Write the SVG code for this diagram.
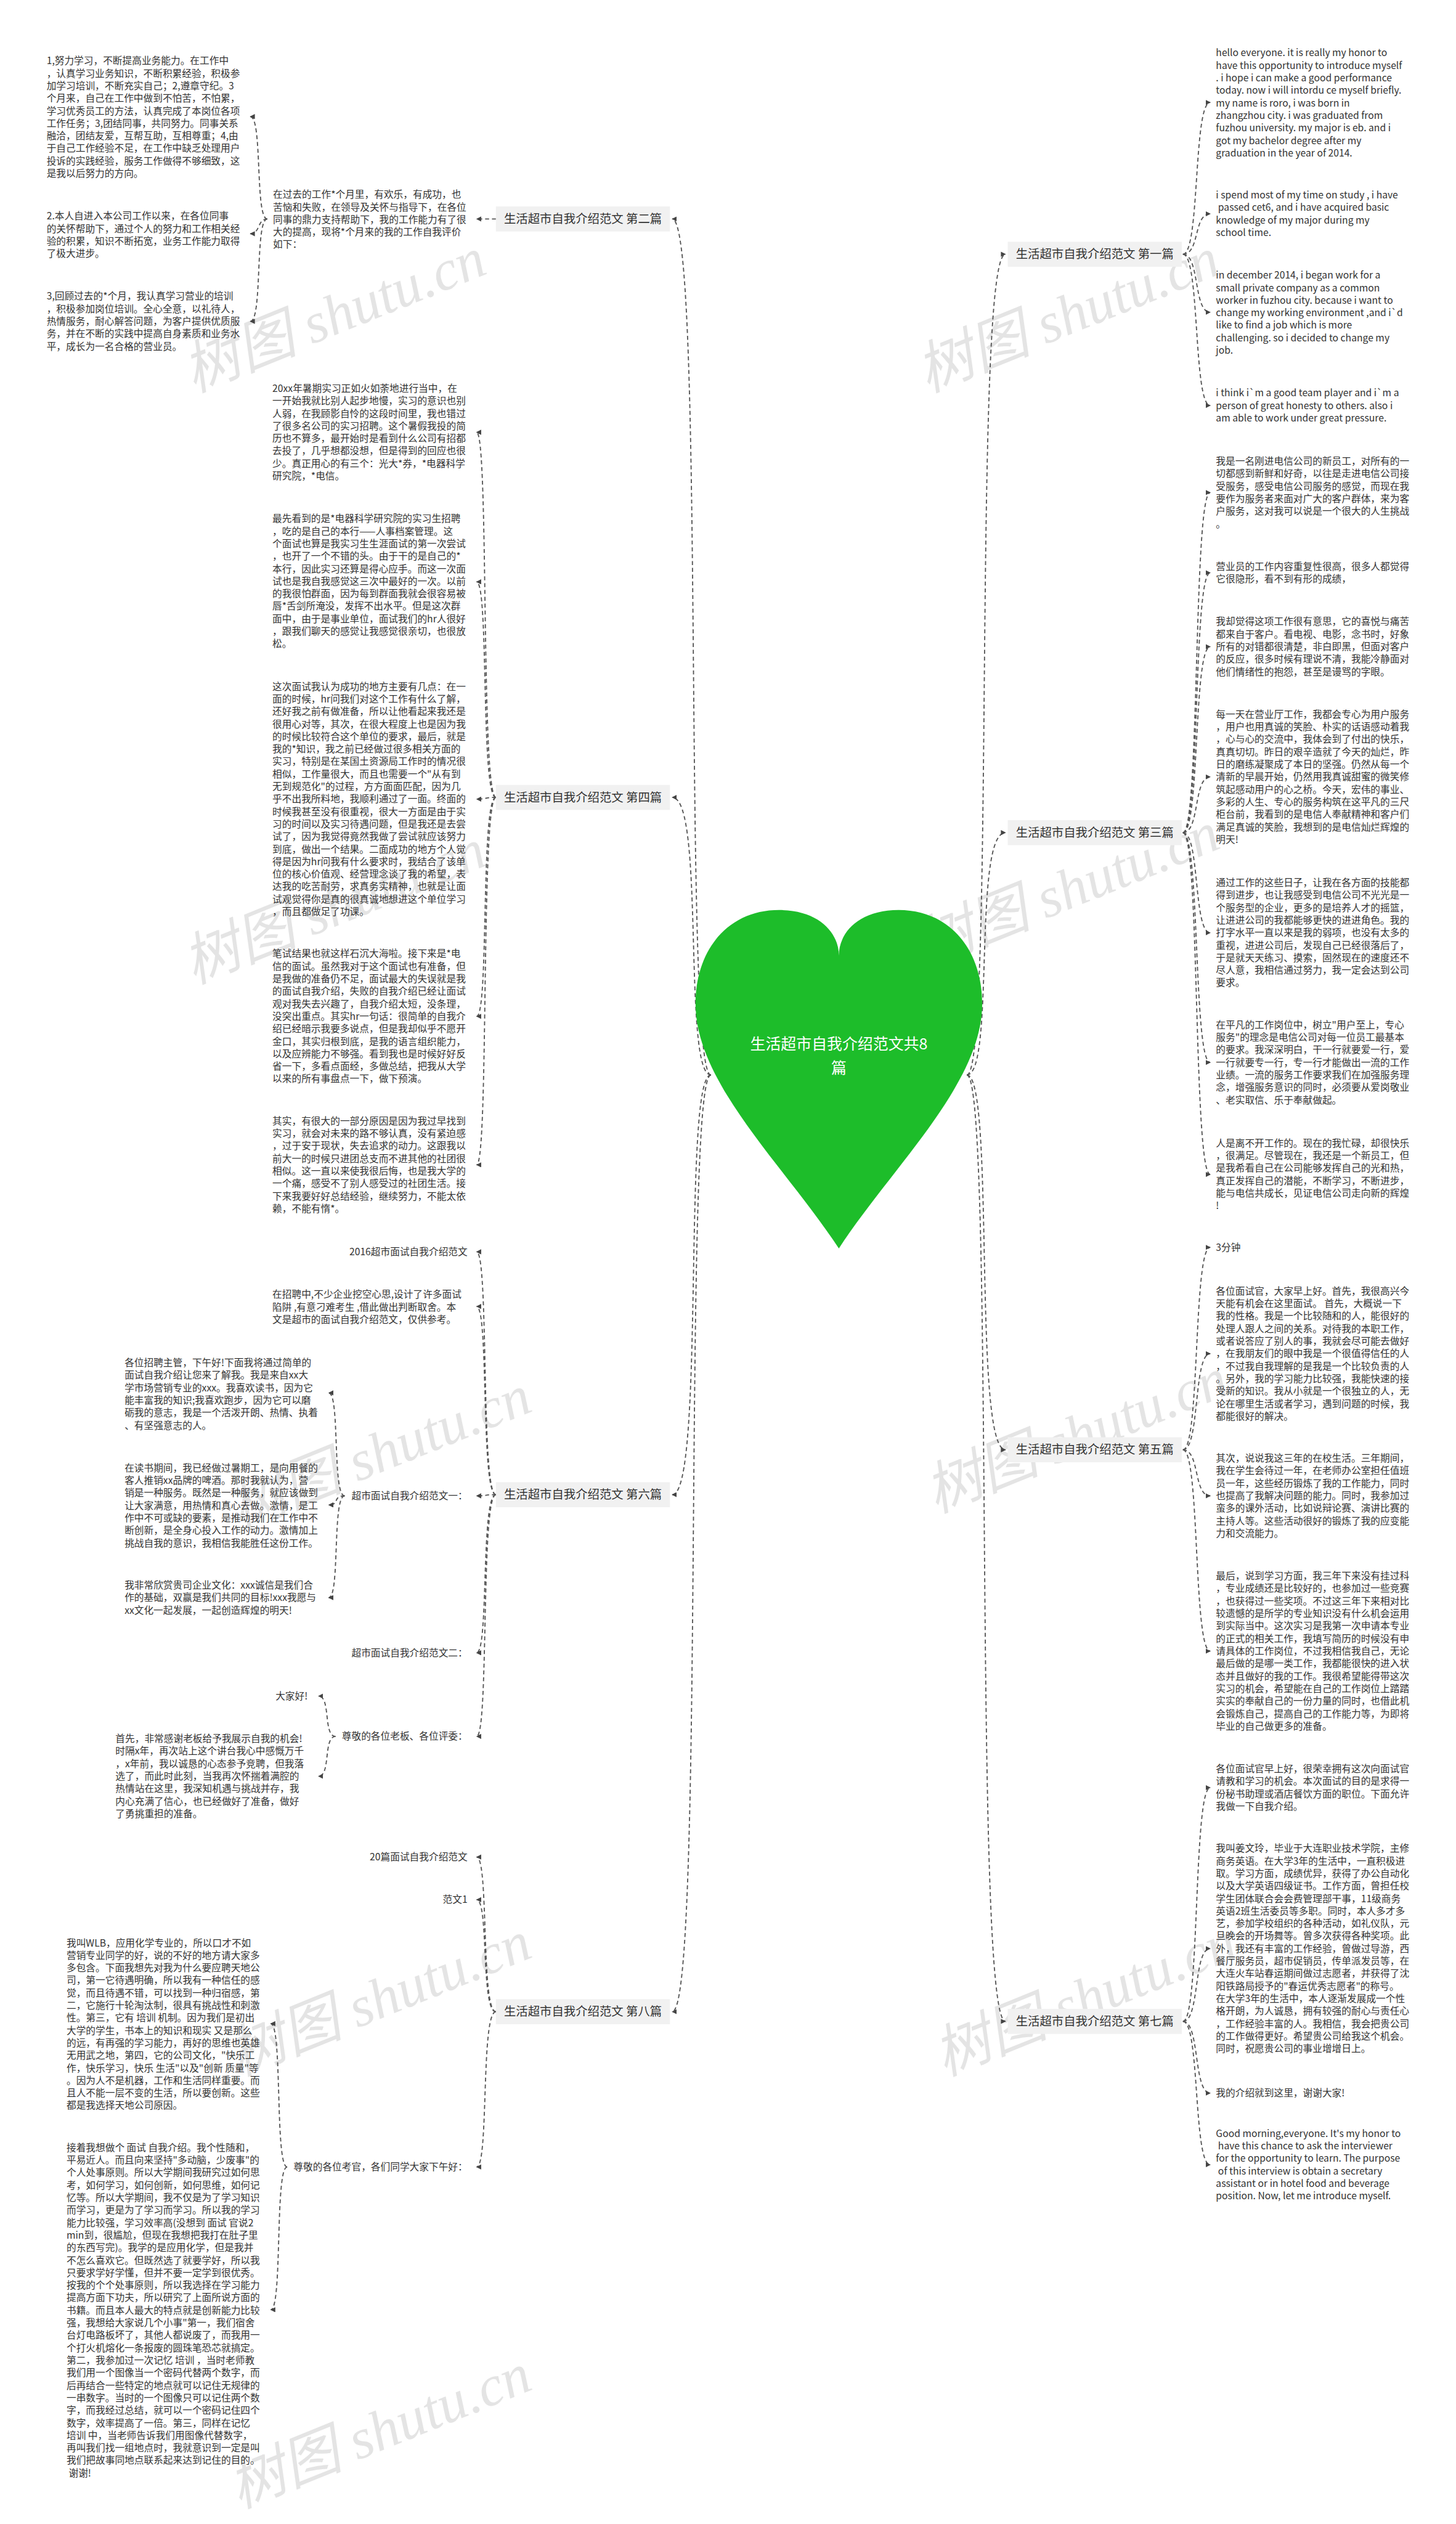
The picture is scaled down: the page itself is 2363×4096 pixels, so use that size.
<svg xmlns="http://www.w3.org/2000/svg" width="2363" height="4096" viewBox="0 0 2363 4096">
<defs>
<style>
.t{font-family:"Noto Sans CJK SC","Liberation Sans",sans-serif;font-size:17px;fill:#333}
.te{font-family:"Noto Sans CJK SC","Liberation Sans",sans-serif;font-size:17px;fill:#333;text-anchor:end}
.n{font-family:"Noto Sans CJK SC","Liberation Sans",sans-serif;font-size:21px;fill:#333;text-anchor:middle}
.nb{fill:#f1f1f1;stroke:none}
.c{fill:none;stroke:#555;stroke-width:2;stroke-dasharray:7 5;marker-end:url(#a)}
.w{font-family:"Liberation Serif","Noto Sans CJK SC",serif;font-style:italic;font-size:100px;fill:#e4e4e4}
</style>
<marker id="a" viewBox="0 0 10 10" refX="9" refY="5" markerWidth="4.5" markerHeight="4.5" orient="auto" markerUnits="strokeWidth"><path d="M0,0 L10,5 L0,10 z" fill="#444"/></marker>
</defs>
<rect width="2363" height="4096" fill="#fff"/>
<g transform="scale(0.923)">
<g id="watermark">
<text class="w" transform="translate(340,690) rotate(-22)">树图 shutu.cn</text>
<text class="w" transform="translate(1630,690) rotate(-22)">树图 shutu.cn</text>
<text class="w" transform="translate(340,1730) rotate(-22)">树图 shutu.cn</text>
<text class="w" transform="translate(1630,1700) rotate(-22)">树图 shutu.cn</text>
<text class="w" transform="translate(420,2690) rotate(-22)">树图 shutu.cn</text>
<text class="w" transform="translate(1645,2660) rotate(-22)">树图 shutu.cn</text>
<text class="w" transform="translate(420,3650) rotate(-22)">树图 shutu.cn</text>
<text class="w" transform="translate(1660,3650) rotate(-22)">树图 shutu.cn</text>
<text class="w" transform="translate(420,4410) rotate(-22)">树图 shutu.cn</text>
</g>
<g id="connectors">
<path class="c" d="M1250,1890 C1200,1890 1240,385 1182,385"/>
<path class="c" d="M1250,1890 C1200,1890 1240,1402 1182,1402"/>
<path class="c" d="M1250,1890 C1200,1890 1240,2628 1182,2628"/>
<path class="c" d="M1250,1890 C1200,1890 1240,3537 1182,3537"/>
<path class="c" d="M1700,1890 C1750,1890 1710,447 1768,447"/>
<path class="c" d="M1700,1890 C1750,1890 1710,1464 1768,1464"/>
<path class="c" d="M1700,1890 C1750,1890 1710,2549 1768,2549"/>
<path class="c" d="M1700,1890 C1750,1890 1710,3554 1768,3554"/>
<path class="c" d="M872,385 L838,385"/>
<path class="c" d="M470,385 C448,385 462,205 440,205"/>
<path class="c" d="M470,385 C452,385 458,411 440,411"/>
<path class="c" d="M470,385 C448,385 462,565 440,565"/>
<path class="c" d="M872,1402 C845,1402 860,760 838,760"/>
<path class="c" d="M872,1402 C845,1402 860,1023 838,1023"/>
<path class="c" d="M872,1402 C850,1402 858,1405 838,1405"/>
<path class="c" d="M872,1402 C845,1402 860,1787 838,1787"/>
<path class="c" d="M872,1402 C845,1402 860,2048 838,2048"/>
<path class="c" d="M872,2628 C845,2628 860,2201 838,2201"/>
<path class="c" d="M872,2628 C845,2628 860,2297 838,2297"/>
<path class="c" d="M872,2628 C850,2628 858,2630 838,2630"/>
<path class="c" d="M872,2628 C845,2628 860,2906 838,2906"/>
<path class="c" d="M872,2628 C845,2628 860,3053 838,3053"/>
<path class="c" d="M606,2630 C584,2630 598,2449 578,2449"/>
<path class="c" d="M606,2630 C584,2630 598,2646 578,2646"/>
<path class="c" d="M606,2630 C584,2630 598,2809 578,2809"/>
<path class="c" d="M590,3053 C568,3053 582,2982 560,2982"/>
<path class="c" d="M590,3053 C568,3053 582,3123 560,3123"/>
<path class="c" d="M872,3537 C845,3537 860,3265 838,3265"/>
<path class="c" d="M872,3537 C845,3537 860,3340 838,3340"/>
<path class="c" d="M872,3537 C845,3537 860,3810 838,3810"/>
<path class="c" d="M505,3810 C483,3810 497,3558 476,3558"/>
<path class="c" d="M505,3810 C483,3810 497,4061 476,4061"/>
<path class="c" d="M2080,447 C2110,447 2098,180 2128,180"/>
<path class="c" d="M2080,447 C2110,447 2098,376 2128,376"/>
<path class="c" d="M2080,447 C2110,447 2098,549 2128,549"/>
<path class="c" d="M2080,447 C2110,447 2098,713 2128,713"/>
<path class="c" d="M2080,1464 C2110,1464 2098,866 2128,866"/>
<path class="c" d="M2080,1464 C2110,1464 2098,1007 2128,1007"/>
<path class="c" d="M2080,1464 C2110,1464 2098,1137 2128,1137"/>
<path class="c" d="M2080,1464 C2110,1464 2098,1366 2128,1366"/>
<path class="c" d="M2080,1464 C2110,1464 2098,1640 2128,1640"/>
<path class="c" d="M2080,1464 C2110,1464 2098,1868 2128,1868"/>
<path class="c" d="M2080,1464 C2110,1464 2098,2065 2128,2065"/>
<path class="c" d="M2080,2549 C2110,2549 2098,2193 2128,2193"/>
<path class="c" d="M2080,2549 C2110,2549 2098,2380 2128,2380"/>
<path class="c" d="M2080,2549 C2110,2549 2098,2630 2128,2630"/>
<path class="c" d="M2080,2549 C2110,2549 2098,2903 2128,2903"/>
<path class="c" d="M2080,3554 C2110,3554 2098,3143 2128,3143"/>
<path class="c" d="M2080,3554 C2110,3554 2098,3426 2128,3426"/>
<path class="c" d="M2080,3554 C2110,3554 2098,3680 2128,3680"/>
<path class="c" d="M2080,3554 C2110,3554 2098,3806 2128,3806"/>
</g>
<g id="root">
<path d="M1475,1680 C1475,1640 1440,1600 1370,1600 C1280,1600 1223,1670 1223,1765 C1223,1905 1380,2050 1475,2195 C1570,2050 1727,1905 1727,1765 C1727,1670 1670,1600 1580,1600 C1510,1600 1475,1640 1475,1680 Z" fill="#1dbd2a"/>
<text x="1475" y="1845" style="font-family:'Noto Sans CJK SC',sans-serif;font-size:27px;fill:#fff;text-anchor:middle">生活超市自我介绍范文共8</text>
<text x="1475" y="1887" style="font-family:'Noto Sans CJK SC',sans-serif;font-size:27px;fill:#fff;text-anchor:middle">篇</text>
</g>
<g id="b2"><rect class="nb" x="872" y="363" width="306" height="44"/><text class="n" x="1025" y="392">生活超市自我介绍范文 第二篇</text></g>
<g id="b4"><rect class="nb" x="872" y="1380" width="306" height="44"/><text class="n" x="1025" y="1409">生活超市自我介绍范文 第四篇</text></g>
<g id="b6"><rect class="nb" x="872" y="2606" width="306" height="44"/><text class="n" x="1025" y="2635">生活超市自我介绍范文 第六篇</text></g>
<g id="b8"><rect class="nb" x="872" y="3515" width="306" height="44"/><text class="n" x="1025" y="3544">生活超市自我介绍范文 第八篇</text></g>
<g id="b1"><rect class="nb" x="1772" y="425" width="306" height="44"/><text class="n" x="1925" y="454">生活超市自我介绍范文 第一篇</text></g>
<g id="b3"><rect class="nb" x="1772" y="1442" width="306" height="44"/><text class="n" x="1925" y="1471">生活超市自我介绍范文 第三篇</text></g>
<g id="b5"><rect class="nb" x="1772" y="2527" width="306" height="44"/><text class="n" x="1925" y="2556">生活超市自我介绍范文 第五篇</text></g>
<g id="b7"><rect class="nb" x="1772" y="3532" width="306" height="44"/><text class="n" x="1925" y="3561">生活超市自我介绍范文 第七篇</text></g>

<g id="b2-1"><text class="t" x="480" y="348"><tspan x="480"> 在过去的工作*个月里，有欢乐，有成功，也</tspan><tspan x="480" dy="22">苦恼和失败，在领导及关怀与指导下，在各位</tspan><tspan x="480" dy="22">同事的鼎力支持帮助下，我的工作能力有了很</tspan><tspan x="480" dy="22">大的提高，现将*个月来的我的工作自我评价</tspan><tspan x="480" dy="22">如下：</tspan></text></g>
<g id="b2-1-1"><text class="t" x="82" y="113"><tspan x="82"> 1,努力学习，不断提高业务能力。在工作中</tspan><tspan x="82" dy="22">，认真学习业务知识，不断积累经验，积极参</tspan><tspan x="82" dy="22">加学习培训，不断充实自己；2,遵章守纪。3</tspan><tspan x="82" dy="22">个月来，自己在工作中做到不怕苦，不怕累，</tspan><tspan x="82" dy="22">学习优秀员工的方法，认真完成了本岗位各项</tspan><tspan x="82" dy="22">工作任务；3,团结同事，共同努力。同事关系</tspan><tspan x="82" dy="22">融洽，团结友爱，互帮互助，互相尊重；4,由</tspan><tspan x="82" dy="22">于自己工作经验不足，在工作中缺乏处理用户</tspan><tspan x="82" dy="22">投诉的实践经验，服务工作做得不够细致，这</tspan><tspan x="82" dy="22">是我以后努力的方向。</tspan></text></g>
<g id="b2-1-2"><text class="t" x="82" y="386"><tspan x="82"> 2.本人自进入本公司工作以来，在各位同事</tspan><tspan x="82" dy="22">的关怀帮助下，通过个人的努力和工作相关经</tspan><tspan x="82" dy="22">验的积累，知识不断拓宽，业务工作能力取得</tspan><tspan x="82" dy="22">了极大进步。</tspan></text></g>
<g id="b2-1-3"><text class="t" x="82" y="527"><tspan x="82"> 3,回顾过去的*个月，我认真学习营业的培训</tspan><tspan x="82" dy="22">，积极参加岗位培训。全心全意，以礼待人，</tspan><tspan x="82" dy="22">热情服务，耐心解答问题，为客户提供优质服</tspan><tspan x="82" dy="22">务，并在不断的实践中提高自身素质和业务水</tspan><tspan x="82" dy="22">平，成长为一名合格的营业员。</tspan></text></g>

<g id="b4-1"><text class="t" x="479" y="689"><tspan x="479">20xx年暑期实习正如火如荼地进行当中，在</tspan><tspan x="479" dy="22">一开始我就比别人起步地慢，实习的意识也别</tspan><tspan x="479" dy="22">人弱，在我顾影自怜的这段时间里，我也错过</tspan><tspan x="479" dy="22">了很多名公司的实习招聘。这个暑假我投的简</tspan><tspan x="479" dy="22">历也不算多，最开始时是看到什么公司有招都</tspan><tspan x="479" dy="22">去投了，几乎想都没想，但是得到的回应也很</tspan><tspan x="479" dy="22">少。真正用心的有三个：光大*券，*电器科学</tspan><tspan x="479" dy="22">研究院，*电信。</tspan></text></g>
<g id="b4-2"><text class="t" x="479" y="918"><tspan x="479">最先看到的是*电器科学研究院的实习生招聘</tspan><tspan x="479" dy="22">，吃的是自己的本行——人事档案管理。这</tspan><tspan x="479" dy="22">个面试也算是我实习生生涯面试的第一次尝试</tspan><tspan x="479" dy="22">，也开了一个不错的头。由于干的是自己的*</tspan><tspan x="479" dy="22">本行，因此实习还算是得心应手。而这一次面</tspan><tspan x="479" dy="22">试也是我自我感觉这三次中最好的一次。以前</tspan><tspan x="479" dy="22">的我很怕群面，因为每到群面我就会很容易被</tspan><tspan x="479" dy="22">唇*舌剑所淹没，发挥不出水平。但是这次群</tspan><tspan x="479" dy="22">面中，由于是事业单位，面试我们的hr人很好</tspan><tspan x="479" dy="22">，跟我们聊天的感觉让我感觉很亲切，也很放</tspan><tspan x="479" dy="22">松。</tspan></text></g>
<g id="b4-3"><text class="t" x="479" y="1213"><tspan x="479">这次面试我认为成功的地方主要有几点：在一</tspan><tspan x="479" dy="22">面的时候，hr问我们对这个工作有什么了解，</tspan><tspan x="479" dy="22">还好我之前有做准备，所以让他看起来我还是</tspan><tspan x="479" dy="22">很用心对等，其次，在很大程度上也是因为我</tspan><tspan x="479" dy="22">的时候比较符合这个单位的要求，最后，就是</tspan><tspan x="479" dy="22">我的*知识，我之前已经做过很多相关方面的</tspan><tspan x="479" dy="22">实习，特别是在某国土资源局工作时的情况很</tspan><tspan x="479" dy="22">相似，工作量很大，而且也需要一个"从有到</tspan><tspan x="479" dy="22">无到规范化"的过程，方方面面匹配，因为几</tspan><tspan x="479" dy="22">乎不出我所料地，我顺利通过了一面。终面的</tspan><tspan x="479" dy="22">时候我甚至没有很重视，很大一方面是由于实</tspan><tspan x="479" dy="22">习的时间以及实习待遇问题，但是我还是去尝</tspan><tspan x="479" dy="22">试了，因为我觉得竟然我做了尝试就应该努力</tspan><tspan x="479" dy="22">到底，做出一个结果。二面成功的地方个人觉</tspan><tspan x="479" dy="22">得是因为hr问我有什么要求时，我结合了该单</tspan><tspan x="479" dy="22">位的核心价值观、经营理念谈了我的希望，表</tspan><tspan x="479" dy="22">达我的吃苦耐劳，求真务实精神，也就是让面</tspan><tspan x="479" dy="22">试观觉得你是真的很真诚地想进这个单位学习</tspan><tspan x="479" dy="22">，而且都做足了功课。</tspan></text></g>
<g id="b4-4"><text class="t" x="479" y="1683"><tspan x="479">笔试结果也就这样石沉大海啦。接下来是*电</tspan><tspan x="479" dy="22">信的面试。虽然我对于这个面试也有准备，但</tspan><tspan x="479" dy="22">是我做的准备仍不足，面试最大的失误就是我</tspan><tspan x="479" dy="22">的面试自我介绍，失败的自我介绍已经让面试</tspan><tspan x="479" dy="22">观对我失去兴趣了，自我介绍太短，没条理，</tspan><tspan x="479" dy="22">没突出重点。其实hr一句话：很简单的自我介</tspan><tspan x="479" dy="22">绍已经暗示我要多说点，但是我却似乎不愿开</tspan><tspan x="479" dy="22">金口，其实归根到底，是我的语言组织能力，</tspan><tspan x="479" dy="22">以及应辨能力不够强。看到我也是时候好好反</tspan><tspan x="479" dy="22">省一下，多看点面经，多做总结，把我从大学</tspan><tspan x="479" dy="22">以来的所有事盘点一下，做下预演。</tspan></text></g>
<g id="b4-5"><text class="t" x="479" y="1977"><tspan x="479">其实，有很大的一部分原因是因为我过早找到</tspan><tspan x="479" dy="22">实习，就会对未来的路不够认真，没有紧迫感</tspan><tspan x="479" dy="22">，过于安于现状，失去追求的动力。这跟我以</tspan><tspan x="479" dy="22">前大一的时候只进团总支而不进其他的社团很</tspan><tspan x="479" dy="22">相似。这一直以来使我很后悔，也是我大学的</tspan><tspan x="479" dy="22">一个痛，感受不了别人感受过的社团生活。接</tspan><tspan x="479" dy="22">下来我要好好总结经验，继续努力，不能太依</tspan><tspan x="479" dy="22">赖，不能有惰*。</tspan></text></g>

<g id="b6-1"><text class="te" x="822" y="2207">2016超市面试自我介绍范文</text></g>
<g id="b6-2"><text class="t" x="479" y="2282"><tspan x="479">在招聘中,不少企业挖空心思,设计了许多面试</tspan><tspan x="479" dy="22">陷阱 ,有意刁难考生 ,借此做出判断取舍。本</tspan><tspan x="479" dy="22">文是超市的面试自我介绍范文，仅供参考。</tspan></text></g>
<g id="b6-3"><text class="te" x="822" y="2636">超市面试自我介绍范文一：</text></g>
<g id="b6-3-1"><text class="t" x="219" y="2402"><tspan x="219">各位招聘主管，下午好!下面我将通过简单的</tspan><tspan x="219" dy="22">面试自我介绍让您来了解我。我是来自xx大</tspan><tspan x="219" dy="22">学市场营销专业的xxx。我喜欢读书，因为它</tspan><tspan x="219" dy="22">能丰富我的知识;我喜欢跑步，因为它可以磨</tspan><tspan x="219" dy="22">砺我的意志，我是一个活泼开朗、热情、执着</tspan><tspan x="219" dy="22">、有坚强意志的人。</tspan></text></g>
<g id="b6-3-2"><text class="t" x="219" y="2587"><tspan x="219">在读书期间，我已经做过暑期工，是向用餐的</tspan><tspan x="219" dy="22">客人推销xx品牌的啤酒。那时我就认为，营</tspan><tspan x="219" dy="22">销是一种服务。既然是一种服务，就应该做到</tspan><tspan x="219" dy="22">让大家满意，用热情和真心去做。激情，是工</tspan><tspan x="219" dy="22">作中不可或缺的要素，是推动我们在工作中不</tspan><tspan x="219" dy="22">断创新，是全身心投入工作的动力。激情加上</tspan><tspan x="219" dy="22">挑战自我的意识，我相信我能胜任这份工作。</tspan></text></g>
<g id="b6-3-3"><text class="t" x="219" y="2793"><tspan x="219">我非常欣赏贵司企业文化：xxx诚信是我们合</tspan><tspan x="219" dy="22">作的基础，双赢是我们共同的目标!xxx我愿与</tspan><tspan x="219" dy="22">xx文化一起发展，一起创造辉煌的明天!</tspan></text></g>
<g id="b6-4"><text class="te" x="822" y="2912">超市面试自我介绍范文二：</text></g>
<g id="b6-5"><text class="te" x="822" y="3059">尊敬的各位老板、各位评委：</text></g>
<g id="b6-5-1"><text class="te" x="541" y="2988">大家好!</text></g>
<g id="b6-5-2"><text class="t" x="203" y="3063"><tspan x="203">首先，非常感谢老板给予我展示自我的机会!</tspan><tspan x="203" dy="22">时隔x年，再次站上这个讲台我心中感慨万千</tspan><tspan x="203" dy="22">，x年前，我以诚恳的心态参予竞聘，但我落</tspan><tspan x="203" dy="22">选了，而此时此刻，当我再次怀揣着满腔的</tspan><tspan x="203" dy="22">热情站在这里，我深知机遇与挑战并存，我</tspan><tspan x="203" dy="22">内心充满了信心，也已经做好了准备，做好</tspan><tspan x="203" dy="22">了勇挑重担的准备。</tspan></text></g>

<g id="b8-1"><text class="te" x="822" y="3271">20篇面试自我介绍范文</text></g>
<g id="b8-2"><text class="te" x="822" y="3346">范文1</text></g>
<g id="b8-3"><text class="te" x="822" y="3816">尊敬的各位考官，各们同学大家下午好：</text></g>
<g id="b8-3-1"><text class="t" x="117" y="3422"><tspan x="117">我叫WLB，应用化学专业的，所以口才不如</tspan><tspan x="117" dy="22">营销专业同学的好，说的不好的地方请大家多</tspan><tspan x="117" dy="22">多包含。下面我想先对我为什么要应聘天地公</tspan><tspan x="117" dy="22">司，第一它待遇明确，所以我有一种信任的感</tspan><tspan x="117" dy="22">觉，而且待遇不错，可以找到一种归宿感，第</tspan><tspan x="117" dy="22">二，它施行十轮淘汰制，很具有挑战性和刺激</tspan><tspan x="117" dy="22">性。第三，它有 培训 机制。因为我们是初出</tspan><tspan x="117" dy="22">大学的学生，书本上的知识和现实 又是那么</tspan><tspan x="117" dy="22">的远，有再强的学习能力，再好的思维也英雄</tspan><tspan x="117" dy="22">无用武之地，第四，它的公司文化，"快乐工</tspan><tspan x="117" dy="22">作，快乐学习，快乐 生活"以及"创新 质量"等</tspan><tspan x="117" dy="22">。因为人不是机器，工作和生活同样重要。而</tspan><tspan x="117" dy="22">且人不能一层不变的生活，所以要创新。这些</tspan><tspan x="117" dy="22">都是我选择天地公司原因。</tspan></text></g>
<g id="b8-3-2"><text class="t" x="117" y="3782"><tspan x="117">接着我想做个 面试 自我介绍。我个性随和，</tspan><tspan x="117" dy="22">平易近人。而且向来坚持"多动脑，少废事"的</tspan><tspan x="117" dy="22">个人处事原则。所以大学期间我研究过如何思</tspan><tspan x="117" dy="22">考，如何学习，如何创新，如何思维，如何记</tspan><tspan x="117" dy="22">忆等。所以大学期间，我不仅是为了学习知识</tspan><tspan x="117" dy="22">而学习，更是为了学习而学习。所以我的学习</tspan><tspan x="117" dy="22">能力比较强，学习效率高(没想到 面试 官说2</tspan><tspan x="117" dy="22">min到，很尴尬，但现在我想把我打在肚子里</tspan><tspan x="117" dy="22">的东西写完)。我学的是应用化学，但是我并</tspan><tspan x="117" dy="22">不怎么喜欢它。但既然选了就要学好，所以我</tspan><tspan x="117" dy="22">只要求学好学懂，但并不要一定学到很优秀。</tspan><tspan x="117" dy="22">按我的个个处事原则，所以我选择在学习能力</tspan><tspan x="117" dy="22">提高方面下功夫，所以研究了上面所说方面的</tspan><tspan x="117" dy="22">书籍。而且本人最大的特点就是创新能力比较</tspan><tspan x="117" dy="22">强，我想给大家说几个小事"第一，我们宿舍</tspan><tspan x="117" dy="22">台灯电路板坏了，其他人都说废了，而我用一</tspan><tspan x="117" dy="22">个打火机熔化一条报废的圆珠笔恐芯就搞定。</tspan><tspan x="117" dy="22">第二，我参加过一次记忆 培训 ，当时老师教</tspan><tspan x="117" dy="22">我们用一个图像当一个密码代替两个数字，而</tspan><tspan x="117" dy="22">后再结合一些特定的地点就可以记住无规律的</tspan><tspan x="117" dy="22">一串数字。当时的一个图像只可以记住两个数</tspan><tspan x="117" dy="22">字，而我经过总结，就可以一个密码记住四个</tspan><tspan x="117" dy="22">数字，效率提高了一倍。第三，同样在记忆</tspan><tspan x="117" dy="22">培训 中，当老师告诉我们用图像代替数字，</tspan><tspan x="117" dy="22">再叫我们找一组地点时，我就意识到一定是叫</tspan><tspan x="117" dy="22">我们把故事同地点联系起来达到记住的目的。</tspan><tspan x="117" dy="22"> 谢谢!</tspan></text></g>

<g id="b1-1"><text class="t" x="2138" y="99"><tspan x="2138">hello everyone. it is really my honor to</tspan><tspan x="2138" dy="22">have this opportunity to introduce myself</tspan><tspan x="2138" dy="22">. i hope i can make a good performance</tspan><tspan x="2138" dy="22">today. now i will intordu ce myself briefly.</tspan><tspan x="2138" dy="22">my name is roro, i was born in</tspan><tspan x="2138" dy="22">zhangzhou city. i was graduated from</tspan><tspan x="2138" dy="22">fuzhou university. my major is eb. and i</tspan><tspan x="2138" dy="22">got my bachelor degree after my</tspan><tspan x="2138" dy="22">graduation in the year of 2014.</tspan></text></g>
<g id="b1-2"><text class="t" x="2138" y="349"><tspan x="2138">i spend most of my time on study , i have</tspan><tspan x="2138" dy="22"> passed cet6, and i have acquired basic</tspan><tspan x="2138" dy="22">knowledge of my major during my</tspan><tspan x="2138" dy="22">school time.</tspan></text></g>
<g id="b1-3"><text class="t" x="2138" y="490"><tspan x="2138">in december 2014, i began work for a</tspan><tspan x="2138" dy="22">small private company as a common</tspan><tspan x="2138" dy="22">worker in fuzhou city. because i want to</tspan><tspan x="2138" dy="22">change my working environment ,and i`d</tspan><tspan x="2138" dy="22">like to find a job which is more</tspan><tspan x="2138" dy="22">challenging. so i decided to change my</tspan><tspan x="2138" dy="22">job.</tspan></text></g>
<g id="b1-4"><text class="t" x="2138" y="697"><tspan x="2138">i think i`m a good team player and i`m a</tspan><tspan x="2138" dy="22">person of great honesty to others. also i</tspan><tspan x="2138" dy="22">am able to work under great pressure.</tspan></text></g>

<g id="b3-1"><text class="t" x="2138" y="817"><tspan x="2138">我是一名刚进电信公司的新员工，对所有的一</tspan><tspan x="2138" dy="22">切都感到新鲜和好奇，以往是走进电信公司接</tspan><tspan x="2138" dy="22">受服务，感受电信公司服务的感觉，而现在我</tspan><tspan x="2138" dy="22">要作为服务者来面对广大的客户群体，来为客</tspan><tspan x="2138" dy="22">户服务，这对我可以说是一个很大的人生挑战</tspan><tspan x="2138" dy="22">。</tspan></text></g>
<g id="b3-2"><text class="t" x="2138" y="1002"><tspan x="2138">营业员的工作内容重复性很高，很多人都觉得</tspan><tspan x="2138" dy="22">它很隐形，看不到有形的成绩，</tspan></text></g>
<g id="b3-3"><text class="t" x="2138" y="1099"><tspan x="2138">我却觉得这项工作很有意思，它的喜悦与痛苦</tspan><tspan x="2138" dy="22">都来自于客户。看电视、电影，念书时，好象</tspan><tspan x="2138" dy="22">所有的对错都很清楚，非白即黑，但面对客户</tspan><tspan x="2138" dy="22">的反应，很多时候有理说不清，我能冷静面对</tspan><tspan x="2138" dy="22">他们情绪性的抱怨，甚至是谩骂的字眼。</tspan></text></g>
<g id="b3-4"><text class="t" x="2138" y="1262"><tspan x="2138">每一天在营业厅工作，我都会专心为用户服务</tspan><tspan x="2138" dy="22">，用户也用真诚的笑脸、朴实的话语感动着我</tspan><tspan x="2138" dy="22">，心与心的交流中，我体会到了付出的快乐，</tspan><tspan x="2138" dy="22">真真切切。昨日的艰辛造就了今天的灿烂，昨</tspan><tspan x="2138" dy="22">日的磨练凝聚成了本日的坚强。仍然从每一个</tspan><tspan x="2138" dy="22">清新的早晨开始，仍然用我真诚甜蜜的微笑修</tspan><tspan x="2138" dy="22">筑起感动用户的心之桥。今天，宏伟的事业、</tspan><tspan x="2138" dy="22">多彩的人生、专心的服务构筑在这平凡的三尺</tspan><tspan x="2138" dy="22">柜台前，我看到的是电信人奉献精神和客户们</tspan><tspan x="2138" dy="22">满足真诚的笑脸，我想到的是电信灿烂辉煌的</tspan><tspan x="2138" dy="22">明天!</tspan></text></g>
<g id="b3-5"><text class="t" x="2138" y="1558"><tspan x="2138">通过工作的这些日子，让我在各方面的技能都</tspan><tspan x="2138" dy="22">得到进步，也让我感受到电信公司不光光是一</tspan><tspan x="2138" dy="22">个服务型的企业，更多的是培养人才的摇篮，</tspan><tspan x="2138" dy="22">让进进公司的我都能够更快的进进角色。我的</tspan><tspan x="2138" dy="22">打字水平一直以来是我的弱项，也没有太多的</tspan><tspan x="2138" dy="22">重视，进进公司后，发现自己已经很落后了，</tspan><tspan x="2138" dy="22">于是就天天练习、摸索，固然现在的速度还不</tspan><tspan x="2138" dy="22">尽人意，我相信通过努力，我一定会达到公司</tspan><tspan x="2138" dy="22">要求。</tspan></text></g>
<g id="b3-6"><text class="t" x="2138" y="1808"><tspan x="2138">在平凡的工作岗位中，树立"用户至上，专心</tspan><tspan x="2138" dy="22">服务"的理念是电信公司对每一位员工最基本</tspan><tspan x="2138" dy="22">的要求。我深深明白，干一行就要爱一行，爱</tspan><tspan x="2138" dy="22">一行就要专一行，专一行才能做出一流的工作</tspan><tspan x="2138" dy="22">业绩。一流的服务工作要求我们在加强服务理</tspan><tspan x="2138" dy="22">念，增强服务意识的同时，必须要从爱岗敬业</tspan><tspan x="2138" dy="22">、老实取信、乐于奉献做起。</tspan></text></g>
<g id="b3-7"><text class="t" x="2138" y="2016"><tspan x="2138">人是离不开工作的。现在的我忙碌，却很快乐</tspan><tspan x="2138" dy="22">，很满足。尽管现在，我还是一个新员工，但</tspan><tspan x="2138" dy="22">是我希看自己在公司能够发挥自己的光和热，</tspan><tspan x="2138" dy="22">真正发挥自己的潜能，不断学习，不断进步，</tspan><tspan x="2138" dy="22">能与电信共成长，见证电信公司走向新的辉煌</tspan><tspan x="2138" dy="22">!</tspan></text></g>

<g id="b5-1"><text class="t" x="2138" y="2199">3分钟</text></g>
<g id="b5-2"><text class="t" x="2138" y="2276"><tspan x="2138">各位面试官，大家早上好。首先，我很高兴今</tspan><tspan x="2138" dy="22">天能有机会在这里面试。 首先，大概说一下</tspan><tspan x="2138" dy="22">我的性格。我是一个比较随和的人，能很好的</tspan><tspan x="2138" dy="22">处理人跟人之间的关系。对待我的本职工作，</tspan><tspan x="2138" dy="22">或者说答应了别人的事，我就会尽可能去做好</tspan><tspan x="2138" dy="22">，在我朋友们的眼中我是一个很值得信任的人</tspan><tspan x="2138" dy="22">，不过我自我理解的是我是一个比较负责的人</tspan><tspan x="2138" dy="22">。另外，我的学习能力比较强，我能快速的接</tspan><tspan x="2138" dy="22">受新的知识。我从小就是一个很独立的人，无</tspan><tspan x="2138" dy="22">论在哪里生活或者学习，遇到问题的时候，我</tspan><tspan x="2138" dy="22">都能很好的解决。</tspan></text></g>
<g id="b5-3"><text class="t" x="2138" y="2570"><tspan x="2138">其次，说说我这三年的在校生活。三年期间，</tspan><tspan x="2138" dy="22">我在学生会待过一年，在老师办公室担任值班</tspan><tspan x="2138" dy="22">员一年，这些经历锻炼了我的工作能力，同时</tspan><tspan x="2138" dy="22">也提高了我解决问题的能力。同时，我参加过</tspan><tspan x="2138" dy="22">蛮多的课外活动，比如说辩论赛、演讲比赛的</tspan><tspan x="2138" dy="22">主持人等。这些活动很好的锻炼了我的应变能</tspan><tspan x="2138" dy="22">力和交流能力。</tspan></text></g>
<g id="b5-4"><text class="t" x="2138" y="2777"><tspan x="2138">最后，说到学习方面，我三年下来没有挂过科</tspan><tspan x="2138" dy="22">，专业成绩还是比较好的，也参加过一些竞赛</tspan><tspan x="2138" dy="22">，也获得过一些奖项。不过这三年下来相对比</tspan><tspan x="2138" dy="22">较遗憾的是所学的专业知识没有什么机会运用</tspan><tspan x="2138" dy="22">到实际当中。这次实习是我第一次申请本专业</tspan><tspan x="2138" dy="22">的正式的相关工作，我填写简历的时候没有申</tspan><tspan x="2138" dy="22">请具体的工作岗位，不过我相信我自己，无论</tspan><tspan x="2138" dy="22">最后做的是哪一类工作，我都能很快的进入状</tspan><tspan x="2138" dy="22">态并且做好的我的工作。我很希望能得带这次</tspan><tspan x="2138" dy="22">实习的机会，希望能在自己的工作岗位上踏踏</tspan><tspan x="2138" dy="22">实实的奉献自己的一份力量的同时，也借此机</tspan><tspan x="2138" dy="22">会锻炼自己，提高自己的工作能力等，为即将</tspan><tspan x="2138" dy="22">毕业的自己做更多的准备。</tspan></text></g>

<g id="b7-1"><text class="t" x="2138" y="3116"><tspan x="2138">各位面试官早上好，很荣幸拥有这次向面试官</tspan><tspan x="2138" dy="22">请教和学习的机会。本次面试的目的是求得一</tspan><tspan x="2138" dy="22">份秘书助理或酒店餐饮方面的职位。下面允许</tspan><tspan x="2138" dy="22">我做一下自我介绍。</tspan></text></g>
<g id="b7-2"><text class="t" x="2138" y="3256"><tspan x="2138">我叫姜文玲，毕业于大连职业技术学院，主修</tspan><tspan x="2138" dy="22">商务英语。在大学3年的生活中，一直积极进</tspan><tspan x="2138" dy="22">取。学习方面，成绩优异，获得了办公自动化</tspan><tspan x="2138" dy="22">以及大学英语四级证书。工作方面，曾担任校</tspan><tspan x="2138" dy="22">学生团体联合会会费管理部干事，11级商务</tspan><tspan x="2138" dy="22">英语2班生活委员等多职。同时，本人多才多</tspan><tspan x="2138" dy="22">艺，参加学校组织的各种活动，如礼仪队，元</tspan><tspan x="2138" dy="22">旦晚会的开场舞等。曾多次获得各种奖项。此</tspan><tspan x="2138" dy="22">外，我还有丰富的工作经验，曾做过导游，西</tspan><tspan x="2138" dy="22">餐厅服务员，超市促销员，传单派发员等，在</tspan><tspan x="2138" dy="22">大连火车站春运期间做过志愿者，并获得了沈</tspan><tspan x="2138" dy="22">阳铁路局授予的"春运优秀志愿者"的称号。</tspan><tspan x="2138" dy="22">在大学3年的生活中，本人逐渐发展成一个性</tspan><tspan x="2138" dy="22">格开朗，为人诚恳，拥有较强的耐心与责任心</tspan><tspan x="2138" dy="22">，工作经验丰富的人。我相信，我会把贵公司</tspan><tspan x="2138" dy="22">的工作做得更好。希望贵公司给我这个机会。</tspan><tspan x="2138" dy="22">同时，祝愿贵公司的事业增增日上。</tspan></text></g>
<g id="b7-3"><text class="t" x="2138" y="3686">我的介绍就到这里，谢谢大家!</text></g>
<g id="b7-4"><text class="t" x="2138" y="3757"><tspan x="2138">Good morning,everyone. It's my honor to</tspan><tspan x="2138" dy="22"> have this chance to ask the interviewer</tspan><tspan x="2138" dy="22">for the opportunity to learn. The purpose</tspan><tspan x="2138" dy="22"> of this interview is obtain a secretary</tspan><tspan x="2138" dy="22">assistant or in hotel food and beverage</tspan><tspan x="2138" dy="22">position. Now, let me introduce myself.</tspan></text></g>
</g>
</svg>
